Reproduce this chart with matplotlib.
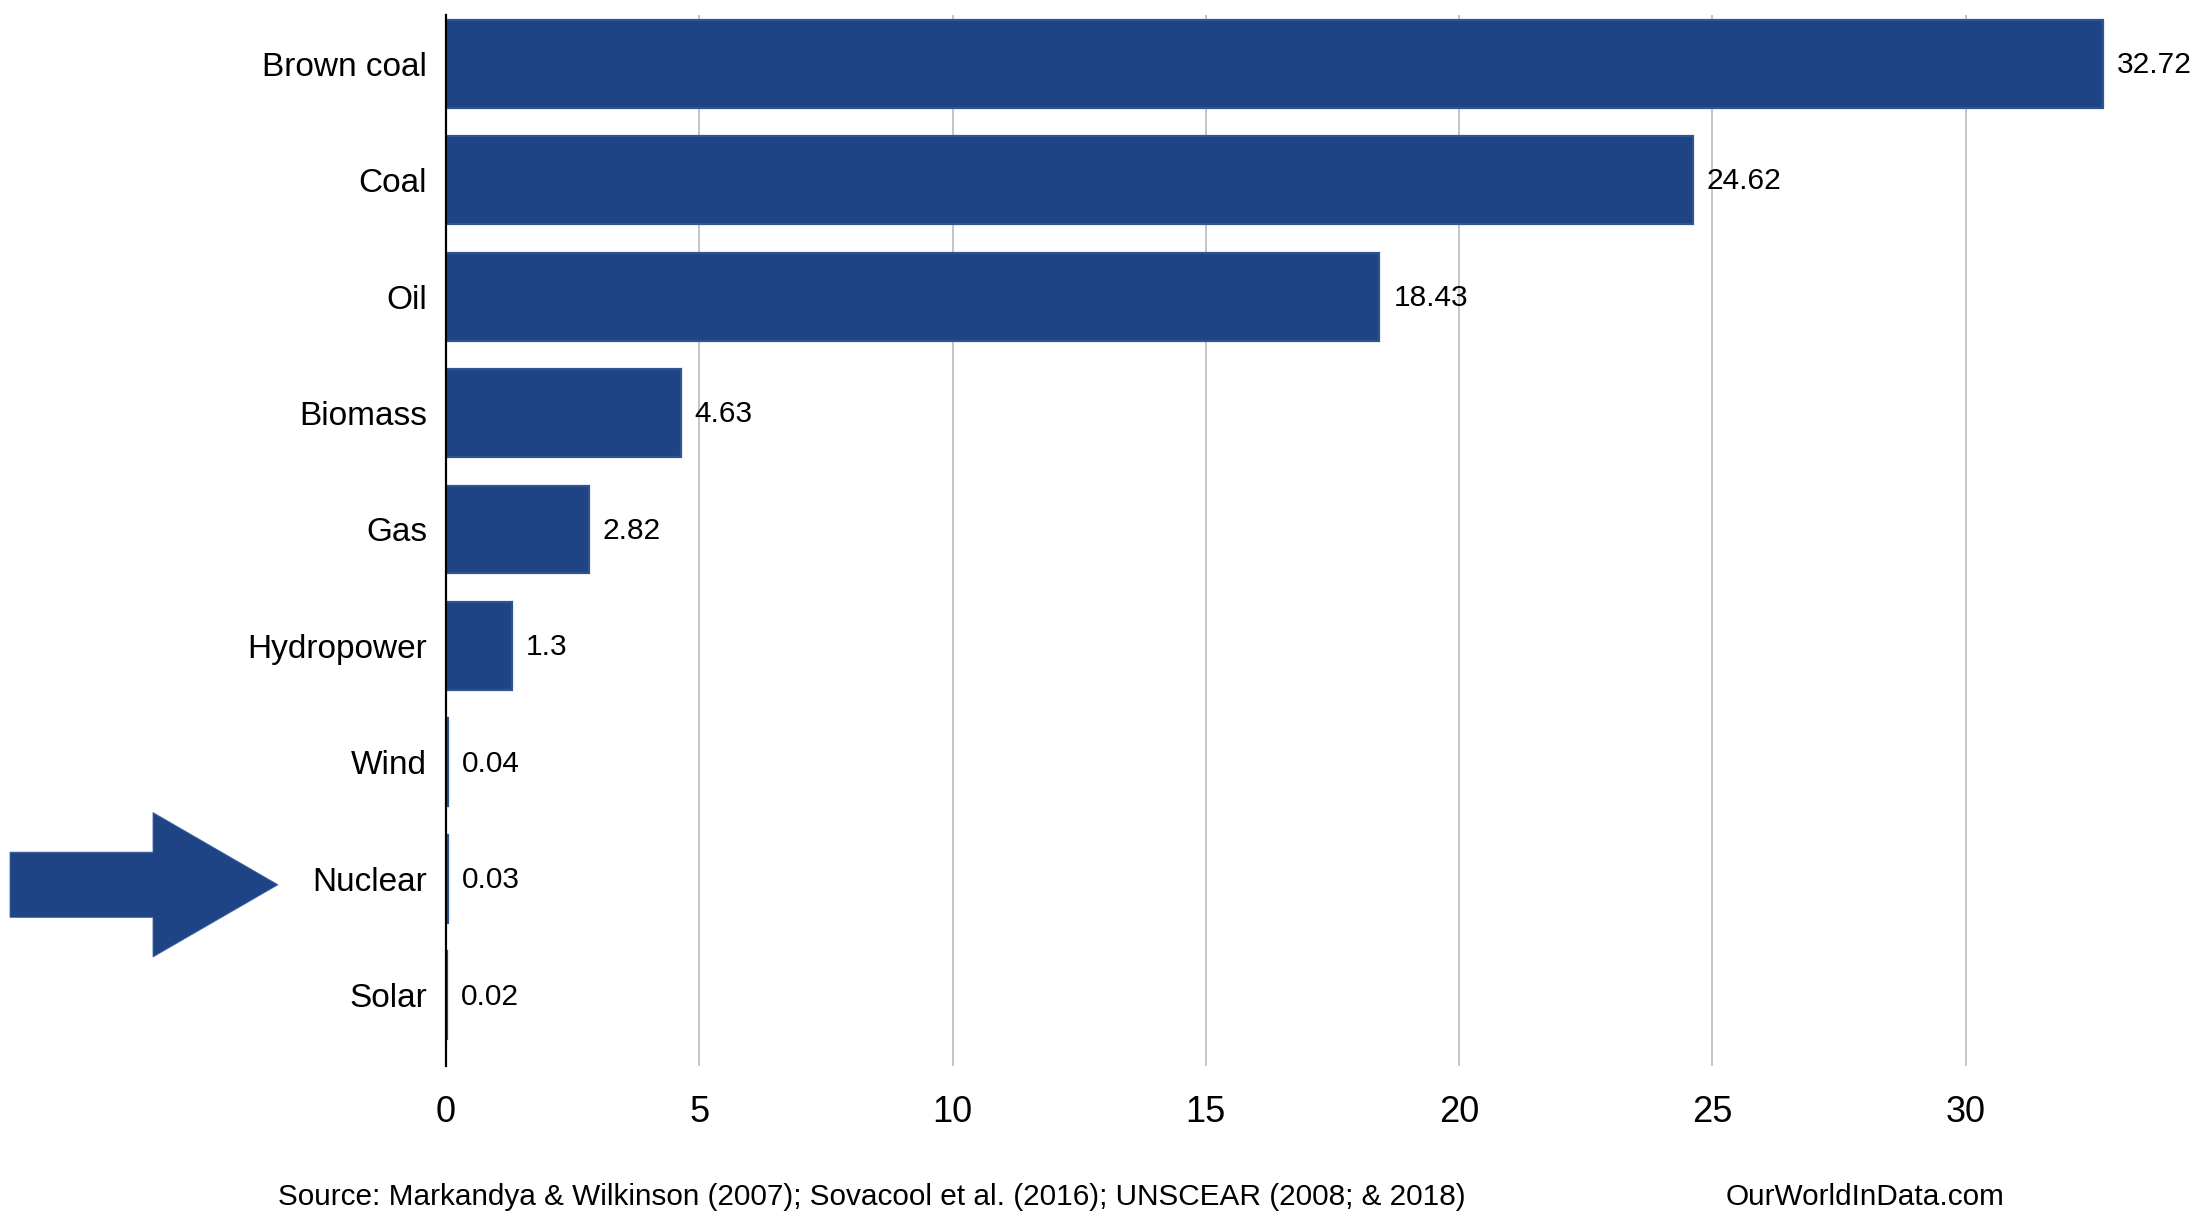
import matplotlib
matplotlib.use("Agg")
import matplotlib.pyplot as plt
from matplotlib.patches import Polygon
from matplotlib.transforms import blended_transform_factory

# Data
categories = ["Brown coal", "Coal", "Oil", "Biomass", "Gas", "Hydropower", "Wind", "Nuclear", "Solar"]
values = [32.72, 24.62, 18.43, 4.63, 2.82, 1.3, 0.04, 0.03, 0.02]
value_labels = ["32.72", "24.62", "18.43", "4.63", "2.82", "1.3", "0.04", "0.03", "0.02"]
xticks = [0, 5, 10, 15, 20, 25, 30]
source_text = "Source: Markandya & Wilkinson (2007); Sovacool et al. (2016); UNSCEAR (2008; & 2018)"
brand_text = "OurWorldInData.com"
highlight = "Nuclear"

plt.rcParams['font.family'] = ['Liberation Sans', 'DejaVu Sans']

W, H = 2202, 1224
fig = plt.figure(figsize=(W / 100, H / 100), dpi=100)
fig.patch.set_facecolor("white")

left_px, right_px = 446, 446 + 34 * 50.65
top_px, bottom_px = 15, 1066
ax = fig.add_axes([left_px / W, 1 - bottom_px / H, (right_px - left_px) / W, (bottom_px - top_px) / H])

bar_color = "#1E4485"
ypos = list(range(len(categories)))
ax.barh(ypos, values, height=0.755, color=bar_color, edgecolor="#2E5494", linewidth=1.6, zorder=3)

for y, v, lab in zip(ypos, values, value_labels):
    ax.annotate(lab, xy=(v, y), xytext=(10, -1), textcoords="offset points",
                ha="left", va="center", fontsize=21.5, color="black", zorder=4)

ax.set_xlim(0, 34)
ax.set_ylim(8.606, -0.417)
ax.set_yticks(ypos)
ax.set_yticklabels(categories, fontsize=24)
ax.set_xticks(xticks)
ax.set_xticklabels([str(t) for t in xticks], fontsize=26)
ax.tick_params(axis="y", length=0, pad=13.5)
ax.tick_params(axis="x", length=0, pad=21)

ax.grid(axis="x", color="#B5B5B5", linewidth=1.1, zorder=0)
ax.grid(axis="y", visible=False)
ax.set_axisbelow(True)
for s in ["top", "right", "bottom"]:
    ax.spines[s].set_visible(False)
ax.spines["left"].set_color("black")
ax.spines["left"].set_linewidth(1.6)
ax.spines["left"].set_zorder(5)

# Highlight arrow pointing at the Nuclear category
idx = categories.index(highlight)
trans = blended_transform_factory(fig.transFigure, ax.transData)
yc = idx + 0.05
bh, hh = 0.28, 0.62
x0, x1, x2 = 10 / W, 153 / W, 278 / W
arrow = Polygon([(x0, yc - bh), (x1, yc - bh), (x1, yc - hh), (x2, yc),
                 (x1, yc + hh), (x1, yc + bh), (x0, yc + bh)],
                closed=True, transform=trans, facecolor=bar_color,
                edgecolor="#4468A6", linewidth=0.6, clip_on=False)
fig.patches.append(arrow)

fig.text(278 / W, 1 - 1205 / H, source_text, fontsize=21.4, ha="left", va="baseline", color="black")
fig.text(1726 / W, 1 - 1205 / H, brand_text, fontsize=21.4, ha="left", va="baseline", color="black")

fig.savefig("out.png", dpi=100, facecolor="white")
